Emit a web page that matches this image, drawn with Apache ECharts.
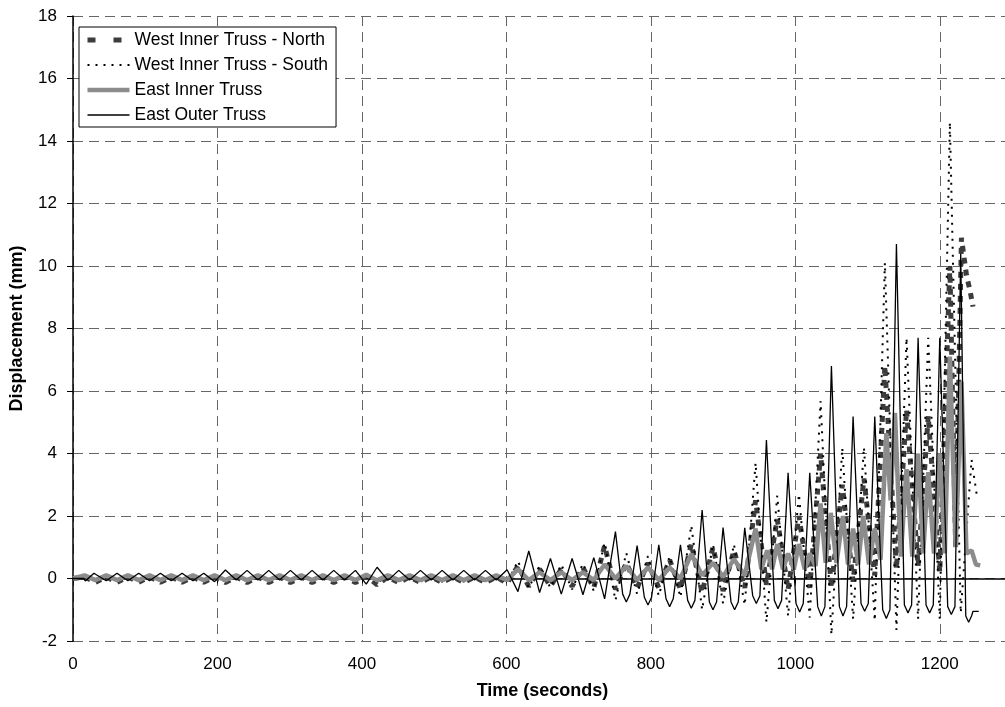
<!DOCTYPE html>
<html>
<head>
<meta charset="utf-8">
<script src="https://cdn.jsdelivr.net/npm/echarts@6/dist/echarts.min.js"></script>
<style>
  html, body { margin: 0; padding: 0; background: #fff; overflow: hidden; }
  #main { width: 1015px; height: 707px; }
</style>
</head>
<body>
<div id="main"></div>
<script>
// [time (s), displacement (mm)]
var westNorth = [
  [0,0],[16,0.05],[31,-0.12],[46,0.05],[61,-0.12],[76,0.05],[91,-0.12],[106,0.05],[121,-0.12],[136,0.05],
  [151,-0.12],[166,0.05],[181,-0.12],[196,0.05],[211,-0.13],[226,0.05],[241,-0.13],[256,0.05],[271,-0.13],
  [286,0.05],[301,-0.13],[316,0.05],[331,-0.13],[346,0.05],[361,-0.13],[376,0.05],[391,-0.13],[406,0.08],
  [421,-0.2],[436,0.05],[451,-0.13],[466,0.05],[481,-0.13],[496,0.05],[511,-0.13],[526,0.05],[541,-0.13],
  [556,0.05],[571,-0.13],[586,0.05],[601,-0.15],
  [616,0.4],[631,-0.25],[646,0.3],[661,-0.25],[676,0.3],[691,-0.25],[706,0.35],[721,-0.3],[736,1.05],
  [751,-0.35],[766,0.5],[781,-0.3],[796,0.5],[811,-0.3],[826,0.6],[841,-0.35],[856,1.1],[871,-0.45],
  [886,1.0],[900,-0.4],[915,0.9],[930,-0.3],[945,2.5],[960,-0.2],[975,1.9],[990,-0.35],[1005,2.0],
  [1020,-0.3],[1035,4.0],[1050,-0.3],[1065,3.0],[1080,-0.1],[1095,3.2],[1110,0.1],[1124,6.8],[1140,0.3],
  [1154,5.4],[1170,0.4],[1184,5.2],[1200,0.2],[1214,10.0],[1222,1.0],[1230,10.9],[1237,9.7],[1242,9.2],
  [1246,8.7]
];

var westSouth = [
  [0,0],[16,0.1],[31,-0.08],[46,0.1],[61,-0.08],[76,0.1],[91,-0.08],[106,0.1],[121,-0.08],[136,0.1],
  [151,-0.08],[166,0.1],[181,-0.08],[196,0.1],[211,-0.1],[226,0.1],[241,-0.1],[256,0.1],[271,-0.1],
  [286,0.1],[301,-0.1],[316,0.1],[331,-0.1],[346,0.1],[361,-0.1],[376,0.1],[391,-0.1],[406,0.15],
  [421,-0.15],[436,0.1],[451,-0.1],[466,0.1],[481,-0.1],[496,0.1],[511,-0.1],[526,0.1],[541,-0.1],
  [556,0.1],[571,-0.1],[586,0.12],[601,-0.15],
  [616,0.56],[631,-0.3],[646,0.4],[661,-0.3],[676,0.45],[691,-0.35],[706,0.48],[721,-0.4],[736,1.15],
  [751,-0.7],[766,0.82],[781,-0.5],[796,0.72],[811,-0.55],[826,0.7],[841,-0.6],[856,1.7],[871,-1.0],
  [886,1.1],[900,-0.8],[915,1.1],[930,-0.85],[945,3.7],[960,-1.4],[975,2.65],[990,-1.2],[1005,2.7],
  [1020,-1.25],[1035,5.68],[1050,-1.8],[1065,4.18],[1080,-1.3],[1095,4.2],[1110,-1.35],[1124,10.1],
  [1140,-1.65],[1154,7.7],[1170,-1.3],[1184,7.7],[1200,-1.3],[1214,14.6],[1229,-1.1],[1244,3.8],
  [1252,2.55]
];

var eastInner = [
  [0,0],[16,0.1],[31,-0.05],[46,0.1],[61,-0.05],[76,0.1],[91,-0.05],[106,0.1],[121,-0.05],[136,0.1],
  [151,-0.05],[166,0.1],[181,-0.05],[196,0.1],[211,-0.05],[226,0.1],[241,-0.05],[256,0.1],[271,-0.05],
  [286,0.1],[301,-0.05],[316,0.1],[331,-0.05],[346,0.1],[361,-0.05],[376,0.1],[391,-0.05],[406,0.12],
  [421,-0.06],[436,0.1],[451,-0.05],[466,0.1],[481,-0.05],[496,0.1],[511,-0.05],[526,0.1],[541,-0.05],
  [556,0.1],[571,-0.05],[586,0.1],[601,-0.05],
  [616,0.3],[631,-0.05],[646,0.2],[661,-0.05],[676,0.2],[691,-0.05],[706,0.2],[721,-0.05],[736,0.45],
  [751,0.0],[766,0.4],[781,-0.05],[796,0.35],[811,-0.05],[826,0.35],[841,0.0],[856,0.78],[871,0.1],
  [886,0.5],[900,0.05],[915,0.62],[930,0.1],
  [945,1.6],[953,0.3],[961,0.9],[968,0.3],[975,1.1],[983,0.3],[990,0.8],[998,0.3],[1005,1.1],[1013,0.3],
  [1020,0.8],[1028,0.4],[1035,2.4],[1042,0.5],[1049,2.1],[1057,0.5],[1066,2.0],[1073,0.45],[1080,1.6],
  [1087,0.45],[1094,2.0],[1102,0.45],[1110,1.6],[1118,0.6],[1126,4.65],[1132,2.5],[1138,5.3],[1146,0.7],
  [1154,3.5],[1162,0.7],[1170,4.0],[1177,0.8],[1184,3.4],[1192,0.8],[1200,4.0],[1207,0.8],[1214,7.1],
  [1222,1.0],[1230,6.3],[1237,0.8],[1244,0.9],[1250,0.45],[1256,0.42]
];

var eastOuter = [
  [0,0],[15,0],[17,-0.08],[29,0.17],[46,-0.07],[61,0.17],[76,-0.07],[91,0.17],[106,-0.07],[121,0.17],
  [136,-0.07],[151,0.17],[166,-0.07],[181,0.17],[196,-0.1],[211,0.27],[226,-0.05],[241,0.26],[256,-0.05],
  [271,0.26],[286,-0.05],[301,0.26],[316,-0.05],[331,0.26],[346,-0.05],[361,0.26],[376,-0.05],[391,0.26],
  [406,-0.18],[421,0.36],[436,-0.06],[451,0.26],[466,-0.05],[481,0.26],[496,-0.05],[511,0.26],[526,-0.05],
  [541,0.26],[556,-0.05],[571,0.26],[586,-0.05],[601,0.28],
  [616,-0.42],[631,0.88],[646,-0.45],[661,0.64],[676,-0.5],[691,0.64],[706,-0.52],[721,0.67],[736,-0.65],
  [751,1.5],[761,-0.5],[766,-0.75],[771,-0.5],[781,1.05],[791,-0.6],[796,-0.85],[801,-0.6],[811,1.08],
  [821,-0.65],[826,-0.9],[831,-0.65],[841,1.08],[851,-0.7],[856,-0.95],[861,-0.7],[871,2.19],[881,-0.75],
  [886,-1.0],[891,-0.75],[900,1.63],[911,-0.75],[916,-1.0],[921,-0.75],[930,1.62],[941,-0.55],[946,-0.8],
  [951,-0.55],[960,4.43],[971,-0.7],[976,-0.97],[981,-0.7],[990,3.38],[1001,-0.8],[1006,-1.07],[1011,-0.8],
  [1020,3.38],[1031,-0.9],[1036,-1.2],[1041,-0.9],[1050,6.8],[1061,-0.9],[1066,-1.2],[1071,-0.9],
  [1080,5.18],[1091,-0.8],[1096,-1.05],[1101,-0.8],[1110,5.18],[1121,-1.0],[1126,-1.28],[1131,-1.0],
  [1140,10.7],[1151,-0.85],[1156,-1.1],[1161,-0.85],[1170,7.7],[1181,-0.85],[1186,-1.1],[1191,-0.85],
  [1200,7.7],[1211,-0.9],[1216,-1.15],[1221,-0.9],[1229,10.4],[1236,-1.2],[1240,-1.4],[1244,-1.2],
  [1246,-1.05],[1254,-1.05]
];

var seriesNames = ['West Inner Truss - North', 'West Inner Truss - South', 'East Inner Truss', 'East Outer Truss'];

var font = 'Liberation Sans, Arial, sans-serif';
var chart = echarts.init(document.getElementById('main'));

var styles = [
  { color: '#3c3c3c', width: 5, type: [6, 6], cap: 'butt' },
  { color: '#000', width: 2, type: [2, 6], cap: 'butt' },
  { color: '#8c8c8c', width: 4.5, type: 'solid' },
  { color: '#000', width: 1.3, type: 'solid' }
];
var legendStyles = [
  { color: '#3c3c3c', width: 5, type: [8, 18], cap: 'butt' },
  { color: '#000', width: 2, type: [2, 6], cap: 'butt' },
  { color: '#8c8c8c', width: 4.5, type: 'solid' },
  { color: '#000', width: 1.3, type: 'solid' }
];

var option = {
  animation: false,
  backgroundColor: '#fff',
  grid: { left: 72, top: 16, right: 1, bottom: 66 },
  legend: {
    orient: 'vertical',
    left: 79,
    top: 27,
    padding: [4, 8, 3, 6],
    itemWidth: 42,
    itemHeight: 14,
    itemGap: 7,
    borderColor: '#000',
    borderWidth: 1,
    backgroundColor: '#fff',
    itemStyle: { opacity: 0, borderWidth: 0 },
    textStyle: { fontFamily: font, fontSize: 17.5, color: '#000' },
    data: seriesNames.map(function (n, i) {
      return { name: n, lineStyle: legendStyles[i] };
    })
  },
  xAxis: {
    type: 'value',
    min: 0,
    max: 1300,
    interval: 200,
    name: 'Time (seconds)',
    nameLocation: 'middle',
    nameGap: 41,
    nameTextStyle: { fontFamily: font, fontSize: 18, fontWeight: 'bold', color: '#000' },
    axisLine: { lineStyle: { color: '#000', width: 1.5 } },
    axisTick: { show: true, length: 5, lineStyle: { color: '#000' } },
    axisLabel: {
      margin: 15, fontFamily: font, fontSize: 17, color: '#000',
      formatter: function (v) { return v % 200 === 0 ? String(v) : ''; }
    },
    splitLine: { show: true, lineStyle: { color: '#666', type: [10, 6], width: 1 } }
  },
  yAxis: {
    type: 'value',
    min: -2,
    max: 18,
    interval: 2,
    name: 'Displacement (mm)',
    nameLocation: 'middle',
    nameGap: 47,
    nameTextStyle: { fontFamily: font, fontSize: 18, fontWeight: 'bold', color: '#000' },
    axisLine: { show: true, lineStyle: { color: '#000', width: 1.5 } },
    axisTick: { show: true, length: 6, lineStyle: { color: '#000' } },
    axisLabel: { margin: 16, fontFamily: font, fontSize: 17, color: '#000' },
    splitLine: { show: true, lineStyle: { color: '#666', type: [10, 6], width: 1 } }
  },
  series: [westNorth, westSouth, eastInner, eastOuter].map(function (d, i) {
    return {
      name: seriesNames[i], type: 'line', data: d, symbol: 'none',
      lineStyle: styles[i],
      itemStyle: { color: styles[i].color }
    };
  })
};

chart.setOption(option);
</script>
</body>
</html>
